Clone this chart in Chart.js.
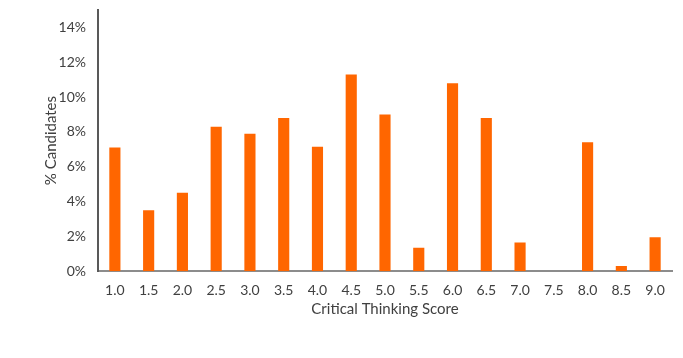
<!DOCTYPE html>
<html>
<head>
<meta charset="utf-8">
<script src="https://cdn.jsdelivr.net/npm/chart.js@4"></script>
<style>
  html, body { margin:0; padding:0; background:#fff; }
  #wrap { width:683px; height:358px; }
</style>
</head>
<body>
<div id="wrap"><canvas id="chart" width="683" height="358"></canvas></div>
<script>
// Data
const scores = ['1.0','1.5','2.0','2.5','3.0','3.5','4.0','4.5','5.0','5.5','6.0','6.5','7.0','7.5','8.0','8.5','9.0'];
const pctCandidates = [7.1, 3.5, 4.5, 8.3, 7.9, 8.8, 7.15, 11.3, 9.0, 1.35, 10.8, 8.8, 1.65, 0, 7.4, 0.3, 1.95];

const fontFam = 'Lato, "Open Sans", sans-serif';

const ctx = document.getElementById('chart').getContext('2d');
new Chart(ctx, {
  type:'bar',
  data:{labels:scores, datasets:[{data:pctCandidates, backgroundColor:'#ff6600', barPercentage:0.33, categoryPercentage:1}]},
  options:{
    responsive:false, animation:false,
    layout:{padding:{left:0, right:11, top:10, bottom:40}},
    plugins:{legend:{display:false}, tooltip:{enabled:false}},
    scales:{
      x:{
        grid:{display:false, drawTicks:false},
        border:{color:'#8c8c8c', width:2},
        ticks:{color:'#404040', font:{family:fontFam, size:14}, padding:11},
        title:{display:true, text:'Critical Thinking Score', color:'#404040', font:{family:fontFam, size:15}, padding:{top:-10, bottom:0}}
      },
      y:{
        min:0, max:15,
        afterFit: (s)=>{ s.width = 98; s.paddingTop = 0; s.paddingBottom = 0; },
        afterBuildTicks: (s)=>{ s.ticks = s.ticks.filter(t=>t.value<=14 && t.value%2===0); },
        grid:{display:false, drawTicks:false},
        border:{color:'#595959', width:2},
        ticks:{stepSize:2, color:'#404040', font:{family:fontFam, size:14}, padding:12, callback:(v)=>v+'%'},
        title:{display:true, text:'% Candidates', color:'#404040', font:{family:fontFam, size:15}, padding:{top:42, bottom:0}}
      }
    }
  }
});
</script>
</body>
</html>
